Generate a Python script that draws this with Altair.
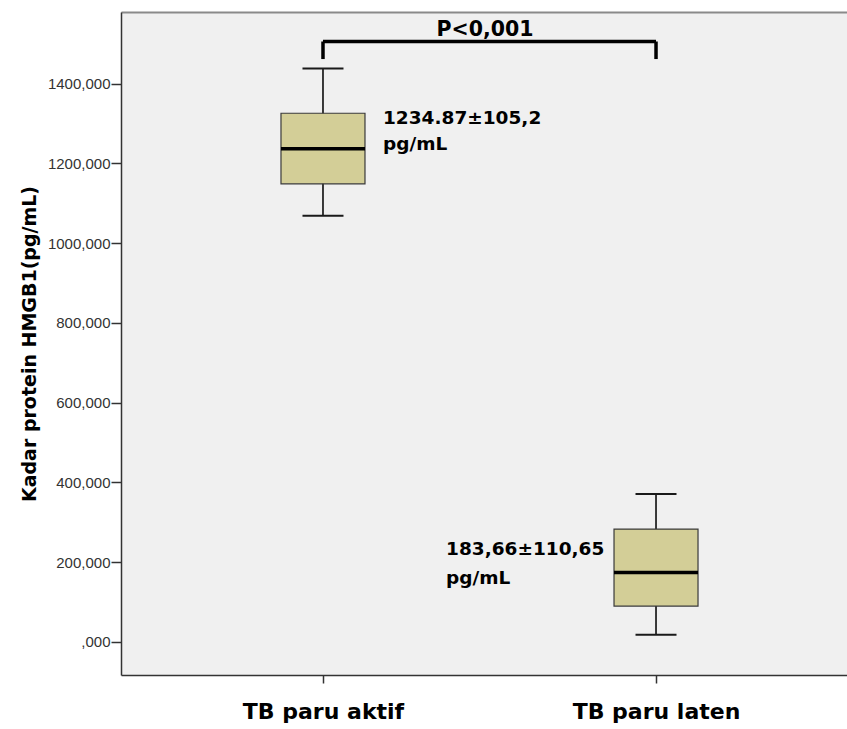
import altair as alt
import pandas as pd

# ---- data ----
groups = ["TB paru aktif", "TB paru laten"]
whisker_low = [1069, 18]
q1 = [1149, 90]
median = [1237, 174]
q3 = [1326, 283]
whisker_high = [1438, 371]

annot_groups = ["TB paru aktif", "TB paru aktif"]
annot_lines_1 = ["1234.87±105,2", "pg/mL"]
annot_y_1 = [1315, 1250]
annot_groups_2 = ["TB paru laten", "TB paru laten"]
annot_lines_2 = ["183,66±110,65", "pg/mL"]
annot_y_2 = [234, 160]

bracket_top = 1506
bracket_drop = 1462
p_label = "P<0,001"
p_label_y = 1536

y_ticks = [0, 200, 400, 600, 800, 1000, 1200, 1400]
y_domain = [-83, 1580]

BOLD = "DejaVu Sans"
REG = "Liberation Sans"

box_df = pd.DataFrame({
    "group": groups, "low": whisker_low, "q1": q1, "median": median,
    "q3": q3, "high": whisker_high,
})
ann1 = pd.DataFrame({"group": annot_groups, "y": annot_y_1, "text": annot_lines_1})
ann2 = pd.DataFrame({"group": annot_groups_2, "y": annot_y_2, "text": annot_lines_2})
bracket_h = pd.DataFrame({"x1": [groups[0]], "x2": [groups[1]], "y": [bracket_top]})
bracket_v = pd.DataFrame({"group": groups, "y": [bracket_top] * 2, "y2": [bracket_drop] * 2})
p_df = pd.DataFrame({"group": [groups[0]], "y": [p_label_y], "text": [p_label]})

x_scale = alt.Scale(type="point", domain=groups, padding=0.59, align=0.514)
y_scale = alt.Scale(domain=y_domain, nice=False, zero=False)

x_axis_bottom = alt.Axis(
    orient="bottom", labelAngle=0, labelFont=BOLD, labelFontSize=22, labelFontWeight="bold",
    labelColor="black", tickSize=8, tickColor="#333333", tickWidth=1.5,
    labelPadding=18, domainColor="#333333", domainWidth=1.5, grid=False,
)
x_axis_top = alt.Axis(
    orient="top", labels=False, ticks=False, grid=False,
    domainColor="#8a8a8a", domainWidth=2, title=None,
)
y_axis = alt.Axis(
    values=y_ticks,
    labelExpr="datum.value == 0 ? ',000' : datum.value + ',000'",
    labelFont=REG, labelFontSize=15, labelColor="#333333",
    tickSize=10, tickColor="#333333", tickWidth=1.5, labelPadding=1,
    domainColor="#333333", domainWidth=1.5, grid=False,
    title="Kadar protein HMGB1(pg/mL)", titleFont=BOLD, titleFontSize=19,
    titleFontWeight="bold", titleColor="black", titlePadding=8,
)
Y_TITLE = "Kadar protein HMGB1(pg/mL)"


def gx(field="group:N"):
    return alt.X(field, scale=x_scale, axis=None)


def gy(field):
    return alt.Y(field, scale=y_scale, title=Y_TITLE)


base = alt.Chart(box_df)

whiskers = base.mark_rule(color="#1a1a1a", strokeWidth=1.7, opacity=1).encode(
    x=alt.X("group:N", scale=x_scale, title=None, axis=x_axis_bottom),
    y=alt.Y("low:Q", scale=y_scale, axis=y_axis, title=Y_TITLE),
    y2="high:Q",
)
frame_top = base.mark_point(opacity=0).encode(
    x=alt.X("group:N", scale=x_scale, title=None, axis=x_axis_top),
    y=gy("median:Q"),
)
caps_low = base.mark_tick(color="#1a1a1a", size=41, thickness=2, opacity=1).encode(
    x=gx(), y=gy("low:Q")
)
caps_high = base.mark_tick(color="#1a1a1a", size=41, thickness=2, opacity=1).encode(
    x=gx(), y=gy("high:Q")
)
boxes = base.mark_bar(size=84, fill="#d3ce97", stroke="#3a3a3a", strokeWidth=1.2, opacity=1).encode(
    x=gx(), y=gy("q1:Q"), y2="q3:Q"
)
medians = base.mark_tick(color="black", size=84, thickness=3.5, opacity=1).encode(
    x=gx(), y=gy("median:Q")
)

text1 = alt.Chart(ann1).mark_text(
    align="left", baseline="middle", dx=60, font=BOLD, fontSize=18.5,
    fontWeight="bold", color="black"
).encode(x=gx(), y=gy("y:Q"), text="text:N")

text2 = alt.Chart(ann2).mark_text(
    align="left", baseline="middle", dx=-210, font=BOLD, fontSize=18.5,
    fontWeight="bold", color="black"
).encode(x=gx(), y=gy("y:Q"), text="text:N")

br_h = alt.Chart(bracket_h).mark_rule(color="black", strokeWidth=3.5).encode(
    x=gx("x1:N"), x2="x2:N", y=gy("y:Q")
)
br_v = alt.Chart(bracket_v).mark_rule(color="black", strokeWidth=3.5).encode(
    x=gx(), y=gy("y:Q"), y2="y2:Q"
)
p_text = alt.Chart(p_df).mark_text(
    align="center", baseline="middle", dx=162, font=BOLD, fontSize=20.5,
    fontWeight="bold", color="black"
).encode(x=gx(), y=gy("y:Q"), text="text:N")

chart = alt.layer(
    whiskers, frame_top, caps_low, caps_high, boxes, medians,
    text1, text2, br_h, br_v, p_text
).resolve_axis(
    x="independent"
).properties(
    width=726, height=663,
    autosize=alt.AutoSizeParams(type="none"),
    padding={"left": 121, "top": 12, "right": 0, "bottom": 54},
    background="white",
).configure_view(
    fill="#f0f0f0", stroke=None
)

chart.save("out.html", embed_options={"renderer": "svg", "actions": False})
